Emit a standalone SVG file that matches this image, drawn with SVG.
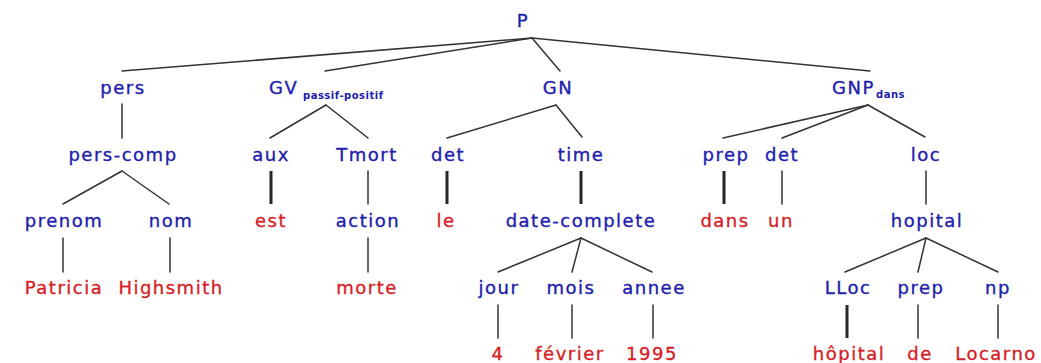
<svg xmlns="http://www.w3.org/2000/svg" width="1041" height="363" viewBox="0 0 1041 363">
  <style>
    .lbl { font-family: "DejaVu Sans", "Liberation Sans", sans-serif; font-size: 18px; letter-spacing: 1.5px; text-anchor: middle; stroke-width: 0.35px; }
    .cat { fill: #2020ac; stroke: #2020ac; }
    .word { fill: #d61e26; stroke: #d61e26; }
    .sub { font-family: "DejaVu Sans", "Liberation Sans", sans-serif; font-size: 10px; font-weight: bold; letter-spacing: 0.5px; fill: #2020ac; }
    .edge { stroke: #333333; stroke-width: 1.5; fill: none; stroke-linecap: round; }
    .bold { stroke: #262626; stroke-width: 3; fill: none; }
  </style>
  <rect width="1041" height="363" fill="#ffffff"/>

  <!-- connectors -->
  <g id="edges">
    <!-- P -->
    <line class="edge" x1="532" y1="38" x2="122" y2="71"/>
    <line class="edge" x1="532" y1="38" x2="325" y2="71"/>
    <line class="edge" x1="532" y1="38" x2="560" y2="71"/>
    <line class="edge" x1="532" y1="38" x2="870" y2="71"/>
    <!-- pers -->
    <line class="edge" x1="122" y1="104" x2="122" y2="138"/>
    <!-- GV -->
    <line class="edge" x1="326" y1="105" x2="270" y2="138"/>
    <line class="edge" x1="326" y1="105" x2="368" y2="138"/>
    <!-- GN -->
    <line class="edge" x1="556" y1="105" x2="447" y2="138"/>
    <line class="edge" x1="556" y1="105" x2="582" y2="137"/>
    <!-- GNP dans -->
    <line class="edge" x1="868" y1="105" x2="723" y2="138"/>
    <line class="edge" x1="868" y1="105" x2="782" y2="138"/>
    <line class="edge" x1="868" y1="105" x2="925" y2="137"/>
    <!-- row 2 to row 3 -->
    <line class="edge" x1="122" y1="171" x2="63" y2="204"/>
    <line class="edge" x1="122" y1="171" x2="169" y2="204"/>
    <line class="bold" x1="271" y1="171" x2="271" y2="204"/>
    <line class="edge" x1="368" y1="171" x2="368" y2="204"/>
    <line class="bold" x1="447" y1="171" x2="447" y2="204"/>
    <line class="bold" x1="581" y1="171" x2="581" y2="204"/>
    <line class="bold" x1="724" y1="171" x2="724" y2="204"/>
    <line class="edge" x1="782" y1="171" x2="782" y2="204"/>
    <line class="edge" x1="926" y1="171" x2="926" y2="204"/>
    <!-- row 3 to row 4 -->
    <line class="edge" x1="63" y1="238" x2="63" y2="272"/>
    <line class="edge" x1="170" y1="238" x2="170" y2="272"/>
    <line class="edge" x1="368" y1="238" x2="368" y2="272"/>
    <line class="edge" x1="581" y1="238" x2="498" y2="272"/>
    <line class="edge" x1="581" y1="238" x2="572" y2="272"/>
    <line class="edge" x1="581" y1="238" x2="652" y2="272"/>
    <line class="edge" x1="926" y1="238" x2="845" y2="272"/>
    <line class="edge" x1="926" y1="238" x2="918" y2="272"/>
    <line class="edge" x1="926" y1="238" x2="998" y2="272"/>
    <!-- row 4 to row 5 -->
    <line class="edge" x1="498" y1="305" x2="498" y2="338"/>
    <line class="edge" x1="572" y1="305" x2="572" y2="338"/>
    <line class="edge" x1="653" y1="305" x2="653" y2="338"/>
    <line class="bold" x1="847" y1="305" x2="847" y2="338"/>
    <line class="edge" x1="918" y1="305" x2="918" y2="338"/>
    <line class="edge" x1="998" y1="305" x2="998" y2="338"/>
  </g>

  <!-- row 0 -->
  <g id="n-P"><text class="lbl cat" x="523" y="27">P</text></g>

  <!-- row 1 -->
  <g id="n-pers"><text class="lbl cat" x="123" y="94">pers</text></g>
  <g id="n-GV"><text class="lbl cat" x="269" y="94" style="text-anchor:start">GV</text><text class="sub" x="303" y="99">passif-positif</text></g>
  <g id="n-GN"><text class="lbl cat" x="558" y="94">GN</text></g>
  <g id="n-GNP"><text class="lbl cat" x="832" y="94" style="text-anchor:start">GNP</text><text class="sub" x="876" y="98">dans</text></g>

  <!-- row 2 -->
  <g id="n-pers-comp"><text class="lbl cat" x="123" y="161">pers-comp</text></g>
  <g id="n-aux"><text class="lbl cat" x="271" y="161">aux</text></g>
  <g id="n-Tmort"><text class="lbl cat" x="367" y="161">Tmort</text></g>
  <g id="n-det1"><text class="lbl cat" x="448" y="161">det</text></g>
  <g id="n-time"><text class="lbl cat" x="581" y="161">time</text></g>
  <g id="n-prep1"><text class="lbl cat" x="726" y="161">prep</text></g>
  <g id="n-det2"><text class="lbl cat" x="782" y="161">det</text></g>
  <g id="n-loc"><text class="lbl cat" x="926" y="161">loc</text></g>

  <!-- row 3 -->
  <g id="n-prenom"><text class="lbl cat" x="64" y="227">prenom</text></g>
  <g id="n-nom"><text class="lbl cat" x="171" y="227">nom</text></g>
  <g id="n-est"><text class="lbl word" x="271" y="227">est</text></g>
  <g id="n-action"><text class="lbl cat" x="368" y="227">action</text></g>
  <g id="n-le"><text class="lbl word" x="446" y="227">le</text></g>
  <g id="n-date-complete"><text class="lbl cat" x="581" y="227">date-complete</text></g>
  <g id="n-dans"><text class="lbl word" x="725" y="227">dans</text></g>
  <g id="n-un"><text class="lbl word" x="781" y="227">un</text></g>
  <g id="n-hopital"><text class="lbl cat" x="927" y="227">hopital</text></g>

  <!-- row 4 -->
  <g id="n-Patricia"><text class="lbl word" x="64" y="294">Patricia</text></g>
  <g id="n-Highsmith"><text class="lbl word" x="171" y="294">Highsmith</text></g>
  <g id="n-morte"><text class="lbl word" x="367" y="294">morte</text></g>
  <g id="n-jour"><text class="lbl cat" x="499" y="294">jour</text></g>
  <g id="n-mois"><text class="lbl cat" x="571" y="294">mois</text></g>
  <g id="n-annee"><text class="lbl cat" x="654" y="294">annee</text></g>
  <g id="n-LLoc"><text class="lbl cat" x="848" y="294">LLoc</text></g>
  <g id="n-prep2"><text class="lbl cat" x="921" y="294">prep</text></g>
  <g id="n-np"><text class="lbl cat" x="998" y="294">np</text></g>

  <!-- row 5 -->
  <g id="n-4"><text class="lbl word" x="498" y="360">4</text></g>
  <g id="n-fevrier"><text class="lbl word" x="570" y="360">février</text></g>
  <g id="n-1995"><text class="lbl word" x="652" y="360">1995</text></g>
  <g id="n-hopital-word"><text class="lbl word" x="849" y="360">hôpital</text></g>
  <g id="n-de"><text class="lbl word" x="920" y="360">de</text></g>
  <g id="n-Locarno"><text class="lbl word" x="996" y="360">Locarno</text></g>
</svg>
